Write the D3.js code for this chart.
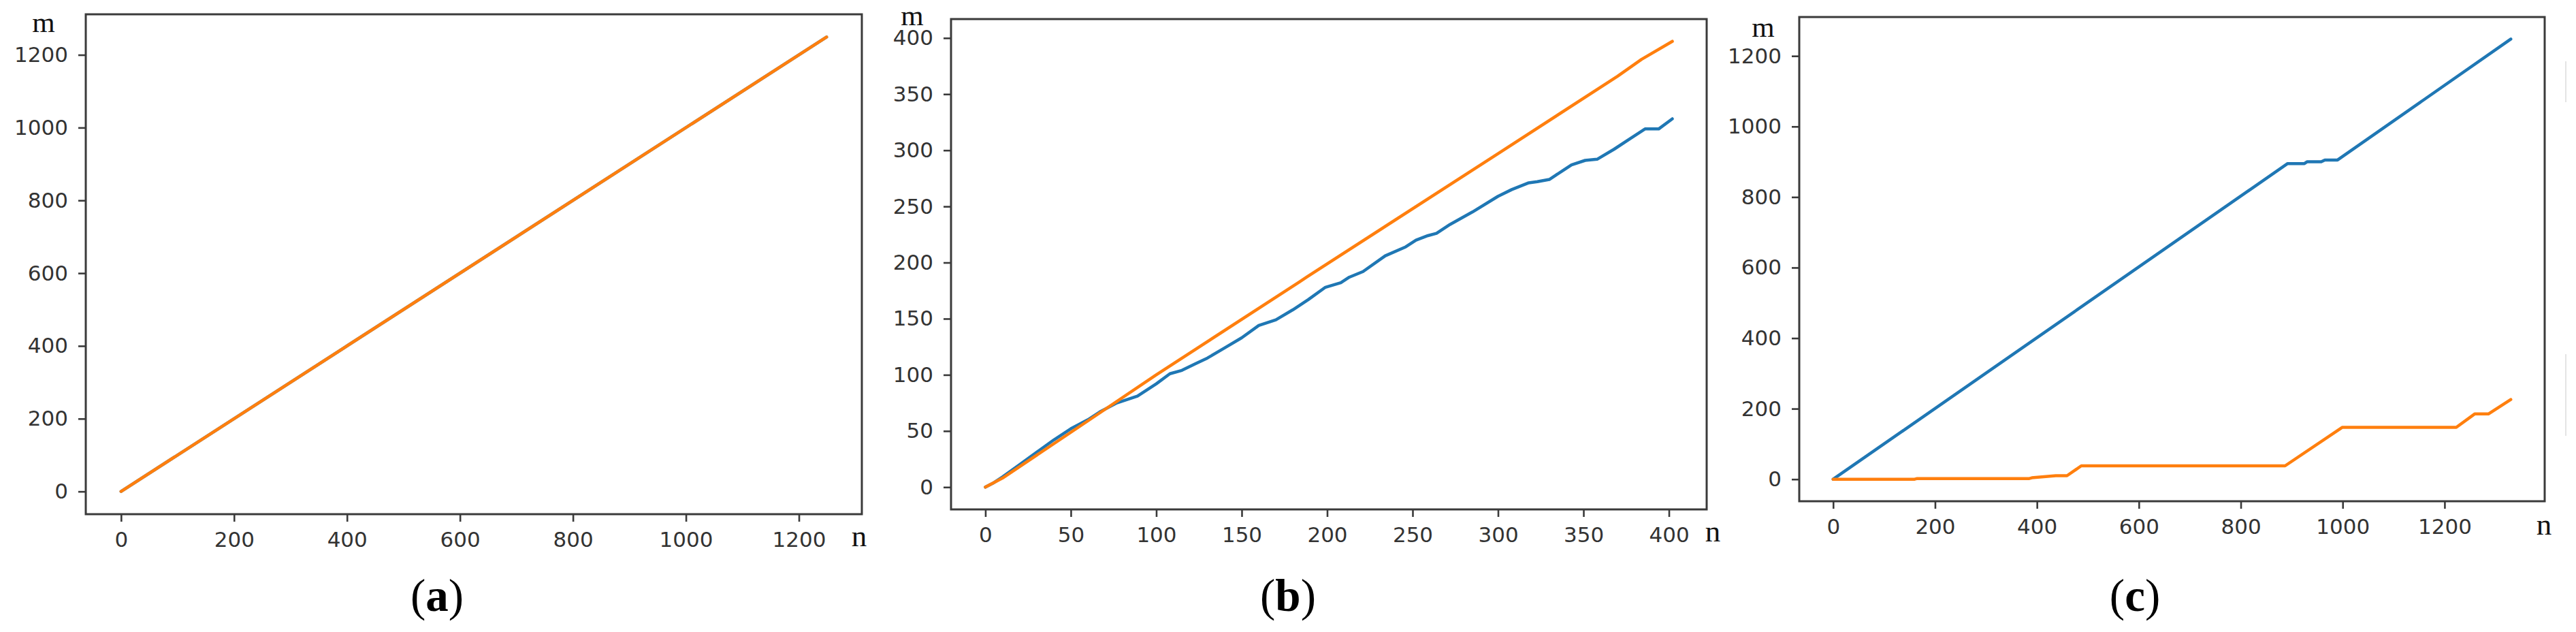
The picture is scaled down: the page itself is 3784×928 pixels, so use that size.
<!DOCTYPE html>
<html><head><meta charset="utf-8">
<script src="https://cdn.jsdelivr.net/npm/d3@7"></script>
<style>body{margin:0;background:#fff;} svg{display:block}</style>
</head><body><svg id="c" width="3784" height="928"></svg>
<script>
// ---------- DATA ----------
// Panel (a)
const aBlueN   = [0, 1249];
const aBlueM   = [0, 1249];
const aOrangeN = [0, 1249];
const aOrangeM = [0, 1249];
const aXTicks  = [0, 200, 400, 600, 800, 1000, 1200];
const aYTicks  = [0, 200, 400, 600, 800, 1000, 1200];

// Panel (b)
const bBlueN = [0,5,10,20,30,40,50,60,67,77,89,100,108,115,123,130,140,150,160,170,180,189,199,208,213,221,234,246,252,259,264,272,285,300,308,318,323,330,338,343,351,358,368,377,386,394,402];
const bBlueM = [0,4,9,20,31,42,52,60,67,75,81,92,101,104,110,115,124,133,144,149,158,167,178,182,187,192,206,214,220,224,226,234,245,259,265,271,272,274,282,287,291,292,301,310,319,319,328];
const bOrangeN = [0,10,60,100,184,188,300,370,384,402];
const bOrangeM = [0,8,59,100,183,187,297,366,381,397];
const bXTicks = [0,50,100,150,200,250,300,350,400];
const bYTicks = [0,50,100,150,200,250,300,350,400];

// Panel (c)
const cBlueN = [0,892,925,930,958,965,990,1330];
const cBlueM = [0,895,895,900,900,905,905,1248];
const cOrangeN = [0,160,165,385,390,437,459,487,887,999,1223,1259,1286,1330];
const cOrangeM = [0,0,2,2,4,10,10,38,38,147,147,185,185,226];
const cXTicks = [0,200,400,600,800,1000,1200];
const cYTicks = [0,200,400,600,800,1000,1200];

const captions = ["a", "b", "c"];
const xLabel = "n", yLabel = "m";

// ---------- LAYOUT ----------
const panels = [
  {box:{l:126, r:1266, t:21, b:755}, blue:[aBlueN,aBlueM], orange:[aOrangeN,aOrangeM], xt:aXTicks, yt:aYTicks,
   mPos:[64,47], nPos:[1262,802], capX:642},
  {box:{l:1397, r:2507, t:28, b:748}, blue:[bBlueN,bBlueM], orange:[bOrangeN,bOrangeM], xt:bXTicks, yt:bYTicks,
   mPos:[1340,37], nPos:[2516,795], capX:1892},
  {box:{l:2643, r:3738, t:25, b:736}, blue:[cBlueN,cBlueM], orange:[cOrangeN,cOrangeM], xt:cXTicks, yt:cYTicks,
   mPos:[2590,54], nPos:[3737,785], capX:3136}
];

const svg = d3.select("#c");
const BLUE = "#1f77b4", ORANGE = "#ff7f0e", AX = "#3a3a3a";

function pad(ext){ const d = (ext[1]-ext[0])*0.05; return [ext[0]-d, ext[1]+d]; }

panels.forEach((p, i) => {
  const allN = p.blue[0].concat(p.orange[0]);
  const allM = p.blue[1].concat(p.orange[1]);
  const x = d3.scaleLinear().domain(pad(d3.extent(allN))).range([p.box.l, p.box.r]);
  const y = d3.scaleLinear().domain(pad(d3.extent(allM))).range([p.box.b, p.box.t]);

  const g = svg.append("g");

  // axes
  const xa = g.append("g").attr("transform", `translate(0,${p.box.b})`)
    .call(d3.axisBottom(x).tickValues(p.xt).tickSize(11).tickPadding(15).tickFormat(d3.format("d")));
  const ya = g.append("g").attr("transform", `translate(${p.box.l},0)`)
    .call(d3.axisLeft(y).tickValues(p.yt).tickSize(11).tickPadding(15).tickFormat(d3.format("d")));
  [xa, ya].forEach(a => {
    a.select(".domain").remove();
    a.selectAll(".tick line").attr("stroke", AX).attr("stroke-width", 2.6);
    a.selectAll(".tick text").attr("fill", "#333").style("font-family", "'DejaVu Sans'").style("font-size", "31px");
  });

  // lines
  const line = d3.line().x(d => x(d[0])).y(d => y(d[1]));
  const mk = s => s[0].map((n, k) => [n, s[1][k]]);
  g.append("path").datum(mk(p.blue)).attr("d", line).attr("fill", "none")
    .attr("stroke", BLUE).attr("stroke-width", 4.5).attr("stroke-linejoin", "round").attr("stroke-linecap", "round");
  g.append("path").datum(mk(p.orange)).attr("d", line).attr("fill", "none")
    .attr("stroke", ORANGE).attr("stroke-width", 4.5).attr("stroke-linejoin", "round").attr("stroke-linecap", "round");

  // frame
  g.append("rect").attr("x", p.box.l).attr("y", p.box.t)
    .attr("width", p.box.r - p.box.l).attr("height", p.box.b - p.box.t)
    .attr("fill", "none").attr("stroke", AX).attr("stroke-width", 3);

  // axis labels
  g.append("text").attr("x", p.mPos[0]).attr("y", p.mPos[1]).attr("text-anchor", "middle")
    .style("font-family", "'Liberation Serif'").style("font-size", "43px").attr("fill", "#111").text(yLabel);
  g.append("text").attr("x", p.nPos[0]).attr("y", p.nPos[1]).attr("text-anchor", "middle")
    .style("font-family", "'Liberation Serif'").style("font-size", "45px").attr("fill", "#111").text(xLabel);

  // caption
  const cap = g.append("text").attr("x", p.capX).attr("y", 897).attr("text-anchor", "middle")
    .style("font-family", "'Liberation Serif'").style("font-size", "67px").attr("fill", "#000");
  cap.append("tspan").text("(");
  cap.append("tspan").style("font-weight", "bold").text(captions[i]);
  cap.append("tspan").text(")");
});

// faint artifact line at far right edge
svg.append("line").attr("x1", 3769).attr("x2", 3769).attr("y1", 520).attr("y2", 640)
  .attr("stroke", "#e4e4e4").attr("stroke-width", 2);
svg.append("line").attr("x1", 3769).attr("x2", 3769).attr("y1", 90).attr("y2", 150)
  .attr("stroke", "#e4e4e4").attr("stroke-width", 2);
</script></body></html>
